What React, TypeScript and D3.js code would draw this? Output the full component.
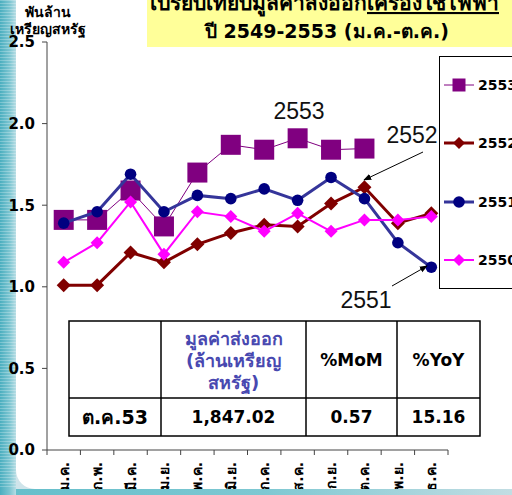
import React from "react";
import * as d3 from "d3";

const months = ["ม.ค.", "ก.พ.", "มี.ค.", "เม.ย.", "พ.ค.", "มิ.ย.", "ก.ค.", "ส.ค.", "ก.ย.", "ต.ค.", "พ.ย.", "ธ.ค."];
const s2553 = [1.41, 1.41, 1.59, 1.37, 1.70, 1.87, 1.84, 1.91, 1.84, 1.847];
const s2552 = [1.01, 1.01, 1.21, 1.15, 1.26, 1.33, 1.38, 1.37, 1.51, 1.61, 1.39, 1.45];
const s2551 = [1.39, 1.46, 1.69, 1.46, 1.56, 1.54, 1.60, 1.53, 1.67, 1.54, 1.27, 1.12];
const s2550 = [1.15, 1.27, 1.52, 1.20, 1.46, 1.43, 1.34, 1.45, 1.34, 1.41, 1.41, 1.43];
const yTicks = [0, 0.5, 1.0, 1.5, 2.0, 2.5];
const seriesNames = ["2553", "2552", "2551", "2550"];
const tableHeader = ["", "%MoM", "%YoY"];
const tableValueHeader = ["มูลค่าส่งออก", "(ล้านเหรียญ", "สหรัฐ)"];
const tableRow = ["ต.ค.53", "1,847.02", "0.57", "15.16"];

const FONT = "Tahoma, 'DejaVu Sans', 'Noto Sans', sans-serif";
const ANNO_FONT = "'Liberation Sans', Arial, sans-serif";

const x = d3.scaleBand<string>().domain(months).range([47, 448]);
const y = d3.scaleLinear().domain([0, 2.5]).range([450, 42]);
const cx = (i: number) => (x(months[i]) as number) + x.bandwidth() / 2;

const diamond = (r: number) => `M0,${-r}L${r},0L0,${r}L${-r},0Z`;
const square = (r: number) => `M${-r},${-r}H${r}V${r}H${-r}Z`;

type Style = { name: string; data: number[]; line: string; width: number; marker: string; fill: string; circle?: number };
const styles: Style[] = [
  { name: seriesNames[0], data: s2553, line: "#800080", width: 1, marker: square(10), fill: "#800080" },
  { name: seriesNames[1], data: s2552, line: "#800000", width: 3, marker: diamond(7), fill: "#800000" },
  { name: seriesNames[2], data: s2551, line: "#35359a", width: 3, marker: "", fill: "#000080", circle: 5.8 },
  { name: seriesNames[3], data: s2550, line: "#ff00ff", width: 2, marker: diamond(6.5), fill: "#ff00ff" },
];

export default function App() {
  const line = d3
    .line<number>()
    .x((_, i) => cx(i))
    .y((d) => y(d));

  const legendY = [85, 143, 202, 260];
  const colX = [69, 161, 306, 397, 480];
  const rowY = [321, 398, 436];

  return (
    <svg width={512} height={495} style={{ position: "absolute", left: 0, top: 0 }} fontFamily={FONT}>
      <defs>
        <linearGradient id="leftStrip" x1="0" x2="1" y1="0" y2="0">
          <stop offset="0" stopColor="#4aaebf" />
          <stop offset="0.6" stopColor="#7cc5d1" />
          <stop offset="1" stopColor="#b7dde4" />
        </linearGradient>
        <linearGradient id="bottomStrip" x1="0" x2="1" y1="0" y2="0">
          <stop offset="0" stopColor="#66bfcb" />
          <stop offset="0.5" stopColor="#7ec8d2" />
          <stop offset="1" stopColor="#c2dde3" />
        </linearGradient>
        <pattern id="stripes" width="4" height="3" patternUnits="userSpaceOnUse">
          <rect width="4" height="1" fill="#ffffff" opacity="0.25" />
        </pattern>
        <marker id="arrow" viewBox="0 0 10 10" refX="9" refY="5" markerWidth="8" markerHeight="8" orient="auto">
          <path d="M0,1L10,5L0,9Z" fill="#000" />
        </marker>
      </defs>
      <rect width={512} height={495} fill="#ffffff" />
      <rect x={0} y={0} width={16} height={495} fill="url(#leftStrip)" />
      <rect x={0} y={0} width={16} height={495} fill="url(#stripes)" />

      {/* title */}
      <rect x={147} y={0} width={370} height={47} fill="#ffff99" />
      <text x={150} y={10} fontSize={21} fontWeight="bold" fill="#000">
        เปรียบเทียบมูลค่าส่งออก<tspan textDecoration="underline">เครื่องใช้ไฟฟ้า</tspan>
      </text>
      <text x={327} y={38} fontSize={19} fontWeight="bold" textAnchor="middle" fill="#000">
        ปี 2549-2553 (ม.ค.-ต.ค.)
      </text>

      {/* y axis title */}
      <text x={48} y={17} fontSize={14} fontWeight="bold" textAnchor="middle">พันล้าน</text>
      <text x={48} y={34} fontSize={14} fontWeight="bold" textAnchor="middle">เหรียญสหรัฐ</text>

      {/* axes */}
      <line x1={47} x2={47} y1={y(2.5)} y2={y(0)} stroke="#444" strokeWidth={1} />
      {yTicks.map((t) => (
        <g key={t}>
          <line x1={42} x2={47} y1={y(t)} y2={y(t)} stroke="#444" />
          <text x={35} y={y(t)} dy="0.36em" fontSize={15} fontWeight="bold" textAnchor="end">
            {t.toFixed(1)}
          </text>
        </g>
      ))}
      <line x1={47} x2={448} y1={y(0)} y2={y(0)} stroke="#444" />
      {[...months.map((m) => x(m) as number), 448].map((px, i) => (
        <line key={i} x1={px} x2={px} y1={y(0)} y2={y(0) + 5} stroke="#444" />
      ))}
      {months.map((m, i) => (
        <text
          key={m}
          transform={`translate(${cx(i) + 5},462) rotate(-90)`}
          fontSize={14}
          fontWeight="bold"
          textAnchor="end"
        >
          {m}
        </text>
      ))}

      {/* series */}
      {styles.map((s) => (
        <g key={s.name}>
          <path d={line(s.data) as string} fill="none" stroke={s.line} strokeWidth={s.width} />
          {s.data.map((v, i) =>
            s.circle ? (
              <circle key={i} cx={cx(i)} cy={y(v)} r={s.circle} fill={s.fill} />
            ) : (
              <path key={i} d={s.marker} transform={`translate(${cx(i)},${y(v)})`} fill={s.fill} />
            )
          )}
        </g>
      ))}

      {/* annotations */}
      <text x={299} y={119} fontSize={23} textAnchor="middle" fontFamily={ANNO_FONT} fill="#111">2553</text>
      <text x={412} y={143} fontSize={23} textAnchor="middle" fontFamily={ANNO_FONT} fill="#111">2552</text>
      <line x1={423} y1={152} x2={364} y2={180} stroke="#000" strokeWidth={1} markerEnd="url(#arrow)" />
      <text x={366} y={308} fontSize={23} textAnchor="middle" fontFamily={ANNO_FONT} fill="#111">2551</text>
      <line x1={392} y1={286} x2={427} y2={266} stroke="#000" strokeWidth={1} markerEnd="url(#arrow)" />

      {/* legend */}
      <rect x={439.5} y={56.5} width={90} height={232} fill="#fff" stroke="#000" strokeWidth={1} />
      {styles.map((s, i) => (
        <g key={s.name} transform={`translate(0,${legendY[i]})`}>
          <line x1={444} x2={474} y1={0} y2={0} stroke={s.line} strokeWidth={s.width} />
          {s.circle ? (
            <circle cx={459} cy={0} r={s.circle} fill={s.fill} />
          ) : (
            <path d={i === 0 ? square(6.5) : diamond(6)} transform="translate(459,0)" fill={s.fill} />
          )}
          <text x={478} y={0} dy="0.36em" fontSize={14} fontWeight="bold">{s.name}</text>
        </g>
      ))}

      {/* table */}
      <rect x={colX[0]} y={rowY[0]} width={colX[4] - colX[0]} height={rowY[2] - rowY[0]} fill="#fff" stroke="#000" strokeWidth={1.5} />
      <line x1={colX[0]} x2={colX[4]} y1={rowY[1]} y2={rowY[1]} stroke="#000" strokeWidth={1.5} />
      {colX.slice(1, 4).map((cxv) => (
        <line key={cxv} x1={cxv} x2={cxv} y1={rowY[0]} y2={rowY[2]} stroke="#000" strokeWidth={1.5} />
      ))}
      {tableValueHeader.map((t, i) => (
        <text key={t} x={(colX[1] + colX[2]) / 2} y={345 + i * 22} fontSize={18} fontWeight="bold" textAnchor="middle" fill="#4848b0">
          {t}
        </text>
      ))}
      <text x={(colX[2] + colX[3]) / 2} y={360} dy="0.36em" fontSize={17} fontWeight="bold" textAnchor="middle">{tableHeader[1]}</text>
      <text x={(colX[3] + colX[4]) / 2} y={360} dy="0.36em" fontSize={17} fontWeight="bold" textAnchor="middle">{tableHeader[2]}</text>
      {tableRow.map((t, i) => (
        <text key={t} x={(colX[i] + colX[i + 1]) / 2} y={417} dy="0.36em" fontSize={i === 0 ? 19 : 17} fontWeight="bold" textAnchor="middle">
          {t}
        </text>
      ))}

      {/* slide decoration (bottom) */}
      <path d="M16,470 A19,19 0 0 0 35,489 L16,489 Z" fill="#cfe4ea" />
      <rect x={16} y={489} width={496} height={6} fill="url(#bottomStrip)" />
      <rect x={0} y={489} width={16} height={6} fill="url(#leftStrip)" />
    </svg>
  );
}
